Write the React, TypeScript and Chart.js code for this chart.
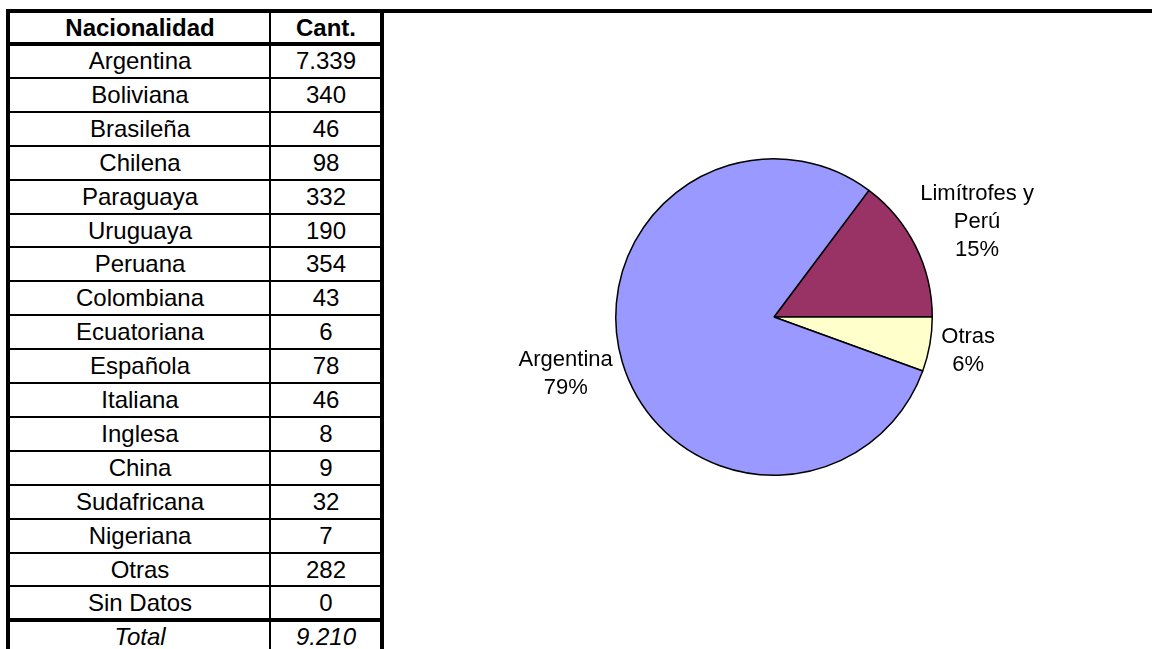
import React, { useEffect, useRef } from "react";
import { Chart, registerables } from "chart.js";

Chart.register(...registerables);

// ---- Table data ----
const headerLabels = ["Nacionalidad", "Cant."];
const nationalities = [
  "Argentina", "Boliviana", "Brasileña", "Chilena", "Paraguaya", "Uruguaya",
  "Peruana", "Colombiana", "Ecuatoriana", "Española", "Italiana", "Inglesa",
  "China", "Sudafricana", "Nigeriana", "Otras", "Sin Datos",
];
const counts = [7339, 340, 46, 98, 332, 190, 354, 43, 6, 78, 46, 8, 9, 32, 7, 282, 0];
const totalLabel = "Total";
const totalCount = 9210;

// ---- Pie data (drawn clockwise in this order) ----
const pieLabels: string[][] = [["Limítrofes y", "Perú"], ["Otras"], ["Argentina"]];
const pieValues = [1360, 511, 7339];
const piePercentLabels = ["15%", "6%", "79%"];
const pieColors = ["#993366", "#FFFFCC", "#9999FF"];

const FONT = "'Liberation Sans', Arial, Helvetica, sans-serif";

function fmt(n: number): string {
  return String(n).replace(/\B(?=(\d{3})+(?!\d))/g, ".");
}

const outerLabels = {
  id: "outerLabels",
  afterDatasetsDraw(chart: any) {
    const ctx = chart.ctx as CanvasRenderingContext2D;
    const meta = chart.getDatasetMeta(0);
    ctx.save();
    ctx.font = `22px ${FONT}`;
    ctx.fillStyle = "#000";
    ctx.textAlign = "center";
    ctx.textBaseline = "middle";
    const lh = 28;
    const gap = 12;
    meta.data.forEach((arc: any, i: number) => {
      const { x, y, startAngle, endAngle, outerRadius } = arc.getProps(
        ["x", "y", "startAngle", "endAngle", "outerRadius"],
        true
      );
      const mid = (startAngle + endAngle) / 2;
      const c = Math.cos(mid);
      const s = Math.sin(mid);
      const lines = [...pieLabels[i], piePercentLabels[i]];
      const w = Math.max(...lines.map((l) => ctx.measureText(l).width));
      const h = lines.length * lh;
      const cx = x + (outerRadius + gap) * c + (c * w) / 2;
      const cy = y + (outerRadius + gap) * s + (s * h) / 2;
      lines.forEach((l, j) => {
        ctx.fillText(l, cx, cy + (j - (lines.length - 1) / 2) * lh);
      });
    });
    ctx.restore();
  },
};

function PieChart() {
  const ref = useRef<HTMLCanvasElement | null>(null);
  useEffect(() => {
    if (!ref.current) return;
    const total = pieValues.reduce((a, b) => a + b, 0);
    const chart = new Chart(ref.current, {
      type: "pie",
      data: {
        labels: pieLabels,
        datasets: [
          {
            data: pieValues,
            backgroundColor: pieColors,
            borderColor: "#000",
            borderWidth: 1.5,
          },
        ],
      },
      options: {
        responsive: false,
        animation: false,
        devicePixelRatio: 1,
        rotation: 90 - (360 * pieValues[0]) / total,
        layout: { padding: { left: 215, right: 219, top: 145, bottom: 173 } },
        plugins: {
          legend: { display: false },
          tooltip: { enabled: false },
        },
      },
      plugins: [outerLabels],
    });
    return () => chart.destroy();
  }, []);
  return (
    <canvas
      ref={ref}
      width={752}
      height={636}
      style={{ position: "absolute", left: 400, top: 13, width: 752, height: 636 }}
    />
  );
}

const line = (left: number, top: number, width: number, height: number, key: string) => (
  <div key={key} style={{ position: "absolute", left, top, width, height, background: "#000" }} />
);

export default function App() {
  const rowH = 33.9;
  const headTop = 13;
  const headBottom = 44;
  const colL = 10;
  const colSep = 270;
  const colR = 380;
  const cellStyle = (left: number, width: number, top: number, height: number): React.CSSProperties => ({
    position: "absolute",
    left,
    width,
    top,
    height,
    lineHeight: `${height}px`,
    textAlign: "center",
    fontFamily: FONT,
    fontSize: 24,
    color: "#000",
    whiteSpace: "nowrap",
  });

  const rows = [...nationalities.map((n, i) => [n, fmt(counts[i])]), [totalLabel, fmt(totalCount)]];
  const elems: React.ReactNode[] = [];

  // header
  elems.push(
    <div key="h0" style={{ ...cellStyle(colL, colSep - colL, headTop, headBottom - headTop - 2), fontWeight: "bold" }}>
      {headerLabels[0]}
    </div>,
    <div key="h1" style={{ ...cellStyle(colSep + 2, colR - colSep - 2, headTop, headBottom - headTop - 2), fontWeight: "bold" }}>
      {headerLabels[1]}
    </div>
  );
  rows.forEach((r, i) => {
    const top = headBottom + i * rowH;
    const italic = i === rows.length - 1;
    elems.push(
      <div key={`a${i}`} style={{ ...cellStyle(colL, colSep - colL, top, rowH), fontStyle: italic ? "italic" : "normal" }}>
        {r[0]}
      </div>,
      <div key={`b${i}`} style={{ ...cellStyle(colSep + 2, colR - colSep - 2, top, rowH), fontStyle: italic ? "italic" : "normal" }}>
        {r[1]}
      </div>
    );
    if (i < rows.length - 1) {
      const isLast = i === nationalities.length - 1;
      const y = Math.round(headBottom + (i + 1) * rowH);
      elems.push(line(6, isLast ? y - 2 : y - 1, 378, isLast ? 4 : 2, `l${i}`));
    }
  });

  return (
    <div style={{ position: "absolute", left: 0, top: 0, width: 1152, height: 649, overflow: "hidden", background: "#fff" }}>
      {elems}
      {line(6, 9, 1146, 4, "top")}
      {line(6, 9, 4, 640, "left")}
      {line(colSep - 1, 9, 2, 640, "sep")}
      {line(colR, 9, 4, 640, "right")}
      {line(6, headBottom - 2, 378, 4, "hb")}
      <PieChart />
    </div>
  );
}
